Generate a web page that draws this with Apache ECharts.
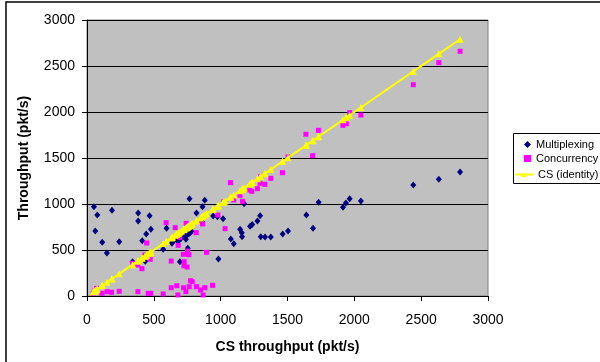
<!DOCTYPE html>
<html>
<head>
<meta charset="utf-8">
<title>Throughput vs CS throughput</title>
<script src="https://cdn.jsdelivr.net/npm/echarts@6/dist/echarts.min.js"></script>
<style>
  html, body { margin: 0; padding: 0; background: #fff; }
  #chart { width: 600px; height: 362px; }
</style>
</head>
<body>
<div id="chart"></div>
<script>
// CS throughput (x) and measured throughput (y), pkt/s
var muxX = [52, 77, 62, 114, 149, 187, 241, 341, 383, 383, 468, 478, 443, 413, 436, 570, 595, 635, 685, 695,
  767, 754, 640, 670, 705, 727, 740, 745, 757, 769, 782, 819, 864, 881, 861, 944, 976, 1018, 983, 1175,
  1076, 1098, 1145, 1158, 1160, 1220, 1236, 1275, 1295, 1300, 1332, 1375, 1464, 1504, 1641, 1691, 1733,
  1915, 1937, 1965, 2049, 2441, 2632, 2791]
var muxY = [971, 880, 707, 583, 467, 931, 591, 373, 902, 815, 873, 725, 674, 601, 377, 507, 736, 573, 598, 373,
  1058, 518, 583, 609, 628, 645, 616, 660, 674, 682, 703, 902, 971, 1040, 808, 870, 862, 840, 402, 1003,
  620, 568, 725, 688, 645, 757, 776, 815, 873, 645, 641, 641, 674, 707, 880, 736, 1018,
  964, 1011, 1058, 1033, 1207, 1268, 1348]

var concX = [47, 60, 72, 112, 149, 184, 241, 381, 458, 476, 570, 630, 672, 680, 722, 740, 764, 775, 787, 819,
  849, 869, 881, 939, 381, 411, 341, 433, 473, 446, 630, 592, 660, 682, 695, 720, 757, 727, 725, 749,
  752, 762, 742, 817, 864, 894, 979, 1033, 1073, 1023, 1098, 1145, 1163, 1218, 1233, 1275, 1295, 1330,
  1375, 1462, 1300, 1504, 1638, 1731, 1688, 1915, 1940, 1965, 2049, 2441, 2632, 2791]
var concY = [29, 58, 83, 29, 47, 40, 51, 47, 29, 29, 22, 90, 112, 11, 90, 47, 101, 166, 155, 101,
  65, 11, 90, 116, 337, 297, 355, 446, 399, 576, 380, 797, 743, 551, 638, 453, 453, 373, 329, 315,
  489, 449, 790, 688, 783, 475, 880, 732, 1232, 1025, 1044, 1094, 1029, 1152, 1138, 1167, 1225, 1214,
  1279, 1340, 1300, 1510, 1758, 1801, 1525, 1855, 1873, 1993, 1967, 2297, 2536, 2660]

// identity line: CS throughput against itself
var csX = muxX.concat(concX)
  .filter(function(v, i, a) { return a.indexOf(v) === i })
  .sort(function(a, b) { return a - b })

function pairs(xs, ys) {
  return xs.map(function(v, i) { return [v, ys[i]] })
}

// plain numbers, no thousands separator
function plain(v) {
  return String(v)
}

var chart = echarts.init(document.getElementById('chart'), null, { renderer: 'canvas' })
var font = 'Arial, "Liberation Sans", sans-serif'
var legendText = { fontSize: 11, fontFamily: font, color: '#000' }

chart.setOption({
  backgroundColor: '#fff',
  animation: false,
  textStyle: { fontFamily: font, color: '#000' },
  graphic: [
    {
      // chart area frame
      type: 'rect',
      shape: { x: 6, y: 2, width: 700, height: 500 },
      style: { fill: 'none', stroke: '#000', lineWidth: 1.5 },
      silent: true
    },
    {
      // legend frame
      type: 'rect',
      shape: { x: 513.5, y: 133.5, width: 120, height: 50 },
      style: { fill: '#fff', stroke: '#000', lineWidth: 1 },
      silent: true,
      z: 0
    }
  ],
  grid: {
    left: 87,
    top: 20,
    width: 401,
    height: 276,
    show: true,
    backgroundColor: '#c0c0c0',
    borderColor: '#808080',
    borderWidth: 1
  },
  legend: [
    {
      orient: 'vertical',
      left: 524,
      top: 139,
      padding: 0,
      itemWidth: 7,
      itemHeight: 7,
      itemGap: 3,
      textStyle: legendText,
      data: [
        { name: 'Multiplexing', icon: 'diamond' },
        { name: 'Concurrency', icon: 'rect' }
      ]
    },
    {
      orient: 'vertical',
      left: 514,
      top: 169,
      padding: 0,
      itemWidth: 18,
      itemHeight: 7,
      textStyle: legendText,
      data: ['CS (identity)']
    }
  ],
  xAxis: {
    type: 'value',
    min: 0,
    max: 3000,
    interval: 500,
    name: 'CS throughput (pkt/s)',
    nameLocation: 'middle',
    nameGap: 44,
    nameTextStyle: { fontSize: 14, fontWeight: 'bold', fontFamily: font, color: '#000' },
    axisLine: { onZero: false, lineStyle: { color: '#000', width: 1 } },
    axisTick: { show: true, length: 5, inside: false, lineStyle: { color: '#000' } },
    axisLabel: { fontSize: 14, color: '#000', margin: 17, formatter: plain },
    splitLine: { show: false }
  },
  yAxis: {
    type: 'value',
    min: 0,
    max: 3000,
    interval: 500,
    name: 'Throughput (pkt/s)',
    nameLocation: 'middle',
    nameGap: 56,
    nameTextStyle: { fontSize: 14, fontWeight: 'bold', fontFamily: font, color: '#000' },
    axisLine: { show: true, onZero: false, lineStyle: { color: '#000', width: 1 } },
    axisTick: { show: true, length: 5, inside: false, lineStyle: { color: '#000' } },
    axisLabel: { fontSize: 14, color: '#000', margin: 12, formatter: plain },
    splitLine: { show: true, lineStyle: { color: '#000', width: 1 } }
  },
  series: [
    {
      name: 'Multiplexing',
      type: 'scatter',
      symbol: 'diamond',
      symbolSize: [6, 7],
      itemStyle: { color: '#000080', opacity: 1 },
      data: pairs(muxX, muxY),
      z: 2
    },
    {
      name: 'Concurrency',
      type: 'scatter',
      symbol: 'rect',
      symbolSize: 5,
      itemStyle: { color: '#ff00ff', opacity: 1 },
      data: pairs(concX, concY),
      z: 3
    },
    {
      name: 'CS (identity)',
      type: 'line',
      symbol: 'triangle',
      symbolSize: 7,
      showAllSymbol: true,
      lineStyle: { color: '#ffff00', width: 2 },
      itemStyle: { color: '#ffff00', borderWidth: 0 },
      data: pairs(csX, csX),
      z: 4
    }
  ]
})
</script>
</body>
</html>
